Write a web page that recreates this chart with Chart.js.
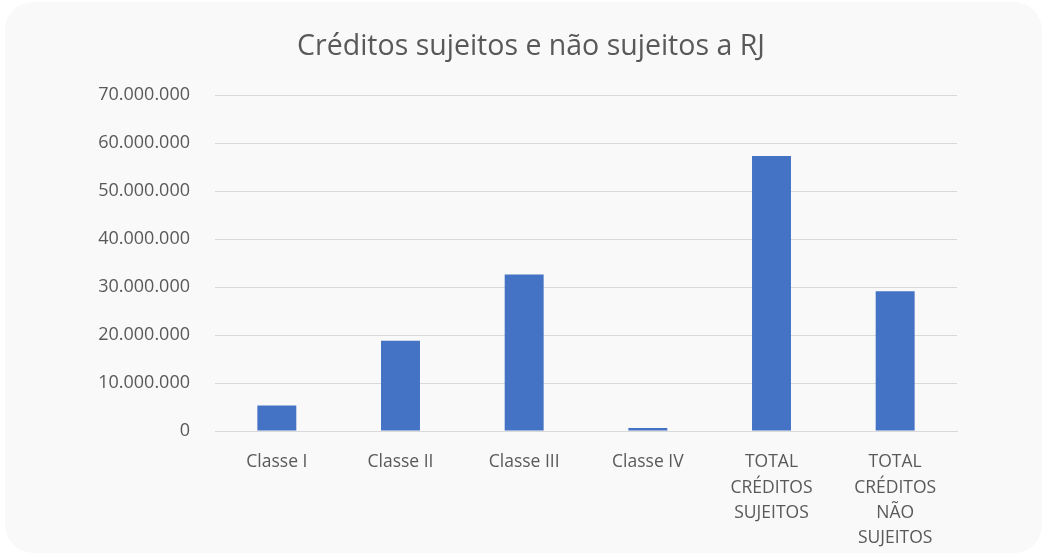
<!DOCTYPE html>
<html>
<head>
<meta charset="utf-8">
<script src="https://cdn.jsdelivr.net/npm/chart.js@4.4.1/dist/chart.umd.min.js"></script>
<style>
  html, body { margin: 0; padding: 0; background: #ffffff; }
  .card {
    position: absolute; left: 5px; top: 2px; width: 1037px; height: 551px;
    background: #f9f9f9; border-radius: 28px;
  }
  .wrap { position: absolute; left: 0; top: 0; width: 1047px; height: 556px; }
</style>
</head>
<body>
<div class="card"></div>
<div class="wrap"><canvas id="rjChart" width="1047" height="556"></canvas></div>
<script>
// Créditos por classe
const categories = [
  'Classe I',
  'Classe II',
  'Classe III',
  'Classe IV',
  ['TOTAL', 'CRÉDITOS', 'SUJEITOS'],
  ['TOTAL', 'CRÉDITOS', 'NÃO', 'SUJEITOS']
];
const creditValues = [5300000, 18800000, 32600000, 600000, 57300000, 29100000];
const yTicks = [0, 10000000, 20000000, 30000000, 40000000, 50000000, 60000000, 70000000];
const chartTitle = 'Créditos sujeitos e não sujeitos a RJ';

const textColor = '#595959';
const fmt = v => v.toLocaleString('de-DE');

// title centred on the whole card, like the original
const centredTitle = {
  id: 'centredTitle',
  afterDraw(chart) {
    const ctx = chart.ctx;
    ctx.save();
    ctx.fillStyle = textColor;
    ctx.font = '28.5px "Open Sans"';
    ctx.textAlign = 'center';
    ctx.textBaseline = 'middle';
    ctx.fillText(chartTitle, 531, 47);
    ctx.restore();
  }
};

document.addEventListener('DOMContentLoaded', () => {
  const canvas = document.getElementById('rjChart');
  new Chart(canvas.getContext('2d'), {
    type: 'bar',
    data: {
      labels: categories,
      datasets: [{
        label: 'Créditos',
        data: creditValues,
        backgroundColor: '#4472C4',
        categoryPercentage: 1,
        barPercentage: 0.315
      }]
    },
    options: {
      responsive: false,
      animation: false,
      layout: { padding: { left: 20, right: 90, top: 95, bottom: 0 } },
      plugins: {
        legend: { display: false },
        tooltip: { enabled: false }
      },
      scales: {
        x: {
          grid: { display: false },
          border: { color: '#d9d9d9', width: 1 },
          ticks: {
            color: textColor,
            font: { family: 'Open Sans', size: 17.5, lineHeight: 1.43 },
            padding: 11,
            maxRotation: 0,
            autoSkip: false
          },
          afterFit: scale => { scale.height = 125; }
        },
        y: {
          min: 0,
          max: 70000000,
          afterBuildTicks: scale => { scale.ticks = yTicks.map(v => ({ value: v })); },
          grid: { color: '#d9d9d9', lineWidth: 1, drawTicks: false, tickLength: 0 },
          border: { display: false },
          ticks: {
            color: textColor,
            font: { family: 'Open Sans', size: 18 },
            padding: 25,
            callback: v => fmt(v)
          },
          afterFit: scale => { scale.width = 195; }
        }
      }
    },
    plugins: [centredTitle]
  });
});
</script>
</body>
</html>
